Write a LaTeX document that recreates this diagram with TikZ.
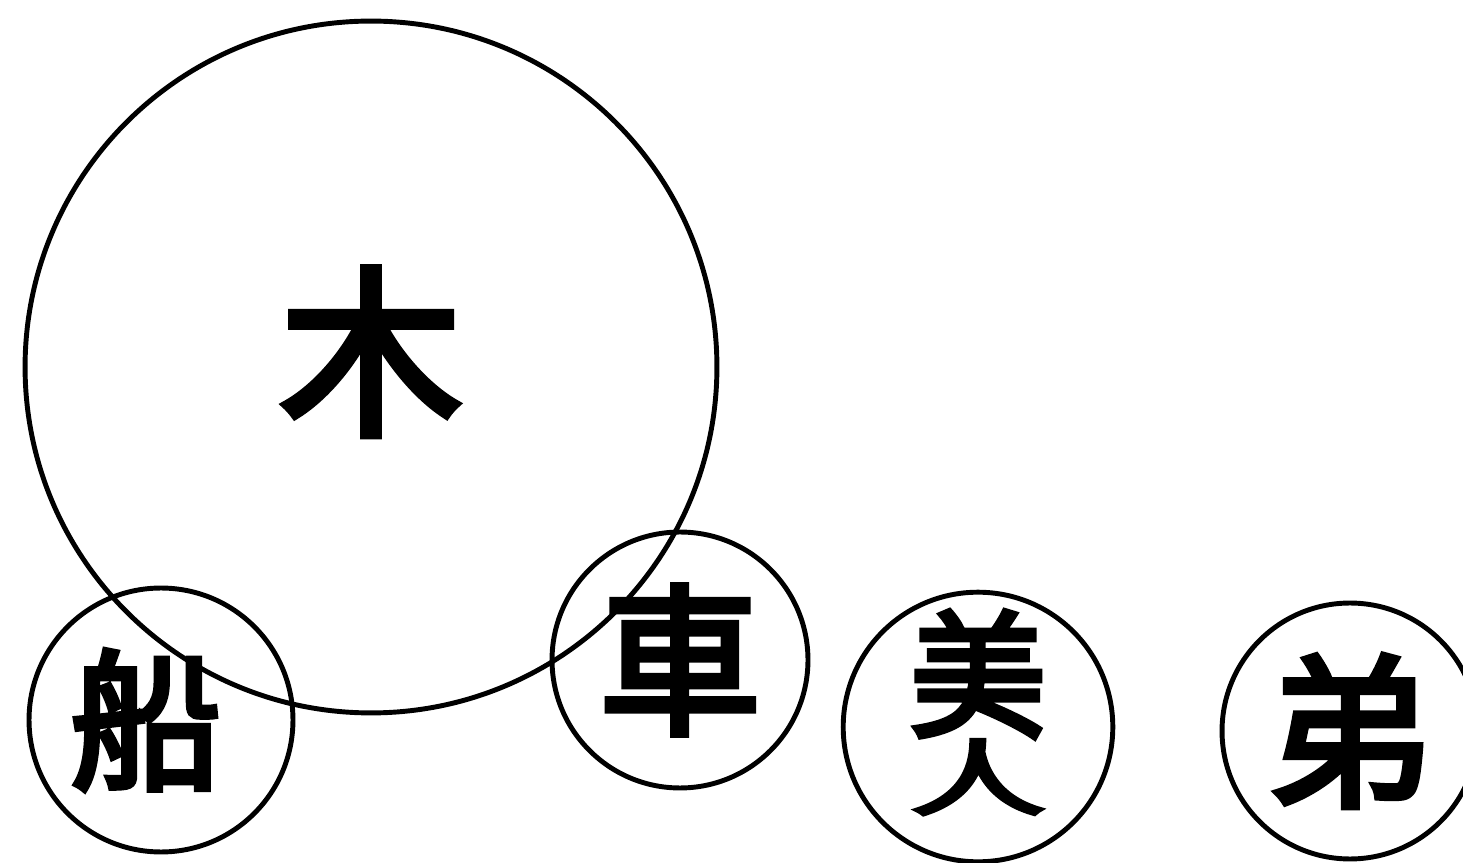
\documentclass[tikz,border=0pt]{standalone}
\usepackage{fontspec}
\usepackage{graphicx}
\newfontfamily\cjk{Noto Sans CJK TC}[FakeBold=4]
\usetikzlibrary{positioning}
\definecolor{ink}{RGB}{0,0,0}

\begin{document}
\begin{tikzpicture}[
    x=0.02cm, y=0.02cm,
    c/.style={
        circle, draw=ink, line width=2.8pt,
        inner sep=0pt, font=\cjk
    },
    big/.style={c, minimum size=13.84cm},
    small/.style={c, minimum size=5.2cm}
]
\useasboundingbox (0,0) rectangle (1463,862);

\node [big] (mu) at (371,495) {\fontsize{104}{104}\selectfont\raisebox{0.9cm}{木}};

\node [small, minimum size=5.28cm] (chuan) at (161,142) {\fontsize{86}{86}\selectfont\kern-0.6cm 船};
\node [small, minimum size=5.12cm] (che) at (680,202) {\fontsize{92}{92}\selectfont 車};
\node [small, minimum size=5.24cm] (meiren) at (978,135)
    {\fontsize{78}{78}\selectfont\raisebox{0.7cm}{\shortstack{美\\[-2pt]\scalebox{1}[0.6]{人}}}};
\node [small, minimum size=5.12cm] (di) at (1350,131) {\fontsize{94}{94}\selectfont 弟};

\end{tikzpicture}
\end{document}
